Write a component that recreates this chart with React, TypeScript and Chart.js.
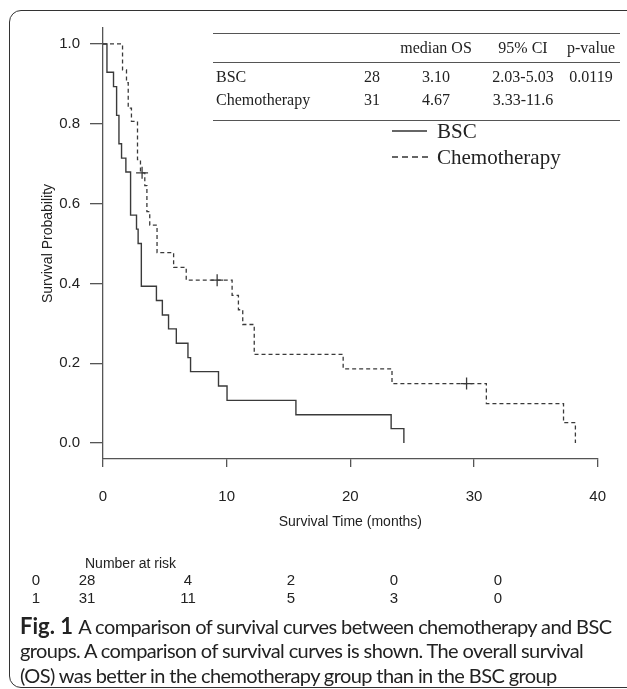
import React, { useEffect, useRef } from "react";
import { Chart, registerables } from "chart.js";

Chart.register(...registerables);

// ---- Data ----
const bscTimes = [0, 0.32, 0.85, 1.1, 1.29, 1.5, 1.85, 2.23, 2.71, 2.84, 3.1, 4.32, 4.8, 5.3, 5.93, 6.87, 7.08, 9.34, 10.03, 15.6, 23.3, 24.33];
const bscSurv = [1, 0.929, 0.893, 0.821, 0.75, 0.714, 0.679, 0.571, 0.536, 0.5, 0.393, 0.357, 0.321, 0.286, 0.25, 0.214, 0.179, 0.143, 0.107, 0.071, 0.036, 0];

const chemoTimes = [0, 1.58, 1.9, 2.04, 2.3, 2.79, 3.03, 3.38, 3.55, 3.78, 4.37, 5.71, 6.73, 10.44, 10.95, 11.3, 12.23, 19.42, 23.37, 31.0, 37.24, 38.2];
const chemoSurv = [1, 0.935, 0.903, 0.839, 0.806, 0.71, 0.677, 0.645, 0.58, 0.546, 0.477, 0.44, 0.408, 0.37, 0.334, 0.297, 0.222, 0.186, 0.149, 0.099, 0.051, 0];

const chemoCensorTimes = [3.16, 9.23, 29.4];
const chemoCensorSurv = [0.677, 0.408, 0.149];

const xTicks = [0, 10, 20, 30, 40];
const yTicks = [0, 0.2, 0.4, 0.6, 0.8, 1.0];

const legendLabels = ["BSC", "Chemotherapy"];

const tableHeader = ["", "", "median OS", "95% CI", "p-value"];
const tableGroups = ["BSC", "Chemotherapy"];
const tableN = ["28", "31"];
const tableMedian = ["3.10", "4.67"];
const tableCI = ["2.03-5.03", "3.33-11.6"];
const tableP = ["0.0119", ""];

const riskGroupLabels = ["0", "1"];
const riskBsc = [28, 4, 2, 0, 0];
const riskChemo = [31, 11, 5, 3, 0];

const captionBold = "Fig. 1";
const captionLines = [
  "A comparison of survival curves between chemotherapy and BSC",
  "groups. A comparison of survival curves is shown. The overall survival",
  "(OS) was better in the chemotherapy group than in the BSC group",
];

const SANS = "'Liberation Sans', Arial, sans-serif";
const SERIF = "'Liberation Serif', 'Times New Roman', serif";
const CAPTION = "Lato, 'Open Sans', sans-serif";

const toPts = (xs: number[], ys: number[]) => xs.map((x, i) => ({ x, y: ys[i] }));

export default function App() {
  const canvasRef = useRef<HTMLCanvasElement | null>(null);

  useEffect(() => {
    const canvas = canvasRef.current;
    if (!canvas) return;
    const chart = new Chart(canvas, {
      type: "scatter",
      data: {
        datasets: [
          {
            label: legendLabels[0],
            data: toPts(bscTimes, bscSurv),
            showLine: true,
            stepped: "before",
            borderColor: "#3a3a3a",
            borderWidth: 1.4,
            pointRadius: 0,
            fill: false,
          },
          {
            label: legendLabels[1],
            data: toPts(chemoTimes, chemoSurv),
            showLine: true,
            stepped: "before",
            borderColor: "#3a3a3a",
            borderWidth: 1.3,
            borderDash: [4, 3],
            pointRadius: 0,
            fill: false,
          },
          {
            label: "censored",
            data: toPts(chemoCensorTimes, chemoCensorSurv),
            showLine: false,
            pointStyle: "cross",
            pointRadius: 6,
            borderColor: "#3a3a3a",
            borderWidth: 1.3,
          },
        ],
      },
      options: {
        animation: false,
        responsive: false,
        devicePixelRatio: 1,
        layout: { padding: { left: 0, top: 28, right: 27, bottom: 150 } },
        plugins: { legend: { display: false }, tooltip: { enabled: false } },
        scales: {
          x: {
            type: "linear",
            min: 0,
            max: 40,
            afterBuildTicks: (s: any) => {
              s.ticks = xTicks.map((v) => ({ value: v }));
            },
            afterFit: (s: any) => {
              s.height = 80;
            },
            border: { display: true, color: "#555", width: 1.3 },
            grid: { drawOnChartArea: false, drawTicks: true, tickLength: 8, color: "#555", lineWidth: 1.3 },
            ticks: { autoSkip: false, maxRotation: 0, padding: 21, color: "#222", font: { family: SANS, size: 15 } },
            title: { display: true, text: "Survival Time (months)", color: "#222", font: { family: SANS, size: 14 }, padding: { top: 0, bottom: 8 } },
          },
          y: {
            type: "linear",
            min: -0.04,
            max: 1.04,
            afterBuildTicks: (s: any) => {
              s.ticks = yTicks.map((v) => ({ value: v }));
            },
            afterFit: (s: any) => {
              s.width = 103;
            },
            border: { display: true, color: "#555", width: 1.3 },
            grid: { drawOnChartArea: false, drawTicks: true, tickLength: 13, color: "#555", lineWidth: 1.3 },
            ticks: { autoSkip: false, padding: 10, color: "#222", font: { family: SANS, size: 15 }, callback: (v: any) => Number(v).toFixed(1) },
            title: { display: true, text: "Survival Probability", color: "#222", font: { family: SANS, size: 14 }, padding: { top: 40, bottom: 0 } },
          },
        },
      },
    } as any);
    return () => chart.destroy();
  }, []);

  const tableColCenters = [0, 372, 436, 523, 591];
  const tableRowY = [77, 100];
  const riskX = [87, 188, 291, 394, 498];

  const abs = (extra: React.CSSProperties): React.CSSProperties => ({ position: "absolute", whiteSpace: "nowrap", ...extra });

  return (
    <div style={{ position: "absolute", left: 0, top: 0, width: 627, height: 689, overflow: "hidden", background: "#fff" }}>
      <div style={abs({ left: 9, top: 10, width: 680, height: 678, border: "1.5px solid #333", borderRadius: 12, boxSizing: "border-box" })} />
      <canvas ref={canvasRef} width={627} height={689} style={{ position: "absolute", left: 0, top: 0, width: 627, height: 689 }} />

      {/* Summary table */}
      <div style={abs({ left: 213, top: 33, width: 407, borderTop: "1.2px solid #555" })} />
      <div style={abs({ left: 213, top: 62, width: 407, borderTop: "1.2px solid #555" })} />
      <div style={abs({ left: 213, top: 120, width: 407, borderTop: "1.2px solid #555" })} />
      {tableHeader.map((h, i) =>
        h ? (
          <div key={"h" + i} style={abs({ left: tableColCenters[i], top: 48, transform: "translate(-50%,-50%)", font: `16px ${SERIF}`, color: "#222" })}>{h}</div>
        ) : null
      )}
      {tableGroups.map((g, r) => {
        const y = tableRowY[r];
        const cells = [tableN[r], tableMedian[r], tableCI[r], tableP[r]];
        return (
          <React.Fragment key={"r" + r}>
            <div style={abs({ left: 216, top: y, transform: "translateY(-50%)", font: `16px ${SERIF}`, color: "#222" })}>{g}</div>
            {cells.map((c, j) => (
              <div key={j} style={abs({ left: tableColCenters[j + 1], top: y, transform: "translate(-50%,-50%)", font: `16px ${SERIF}`, color: "#222" })}>{c}</div>
            ))}
          </React.Fragment>
        );
      })}

      {/* Legend */}
      <svg width={627} height={689} style={{ position: "absolute", left: 0, top: 0 }}>
        <line x1={392} y1={131} x2={427} y2={131} stroke="#333" strokeWidth={1.4} />
        <line x1={392} y1={157} x2={432} y2={157} stroke="#333" strokeWidth={1.4} strokeDasharray="6 4" />
      </svg>
      {legendLabels.map((l, i) => (
        <div key={"l" + i} style={abs({ left: 437, top: i === 0 ? 131 : 157, transform: "translateY(-50%)", font: `21px ${SERIF}`, color: "#222" })}>{l}</div>
      ))}

      {/* Number at risk */}
      <div style={abs({ left: 85, top: 563, transform: "translateY(-50%)", font: `14px ${SANS}`, color: "#222" })}>Number at risk</div>
      {[riskBsc, riskChemo].map((row, r) => (
        <React.Fragment key={"k" + r}>
          <div style={abs({ left: 36, top: r === 0 ? 579 : 597, transform: "translate(-50%,-50%)", font: `15px ${SANS}`, color: "#222" })}>{riskGroupLabels[r]}</div>
          {row.map((v, j) => (
            <div key={j} style={abs({ left: riskX[j], top: r === 0 ? 579 : 597, transform: "translate(-50%,-50%)", font: `15px ${SANS}`, color: "#222" })}>{v}</div>
          ))}
        </React.Fragment>
      ))}

      {/* Caption */}
      {captionLines.map((line, i) => (
        <div key={"c" + i} style={abs({ left: 20, top: 625 + i * 25, transform: "translateY(-50%)", font: `20px ${CAPTION}`, letterSpacing: "-0.6px", color: "#222" })}>
          {i === 0 ? <b style={{ fontWeight: 700, fontSize: 22, letterSpacing: 0 }}>{captionBold} </b> : null}
          {line}
        </div>
      ))}
    </div>
  );
}
